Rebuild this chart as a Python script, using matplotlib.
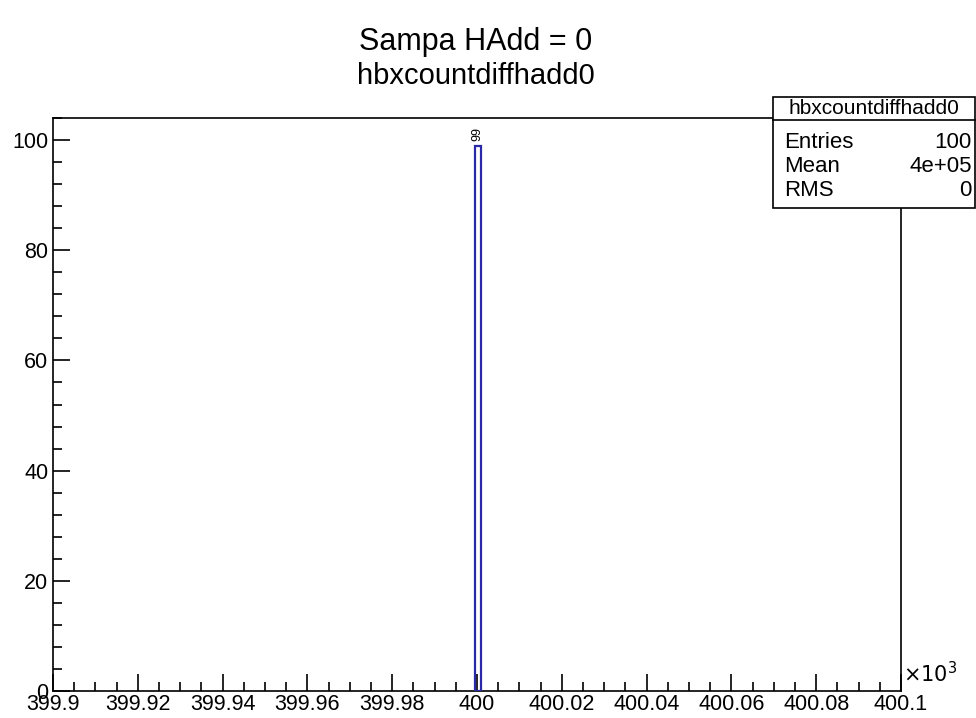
import matplotlib
matplotlib.use("Agg")
import matplotlib.pyplot as plt
from matplotlib.ticker import MultipleLocator, FixedLocator
from matplotlib.patches import Rectangle

plt.rcParams['font.family'] = ['Liberation Sans', 'DejaVu Sans']

# Data (x in units of 10^3)
bin_left = [399.99945]
bin_width = [0.00140]
counts = [99]
x_ticks = [399.9, 399.92, 399.94, 399.96, 399.98, 400.0, 400.02, 400.04, 400.06, 400.08, 400.1]
x_tick_labels = ["399.9", "399.92", "399.94", "399.96", "399.98", "400",
                 "400.02", "400.04", "400.06", "400.08", "400.1"]
y_ticks = [0, 20, 40, 60, 80, 100]
stats_names = ["Entries", "Mean", "RMS"]
stats_values = ["100", "4e+05", "0"]
hist_name = "hbxcountdiffhadd0"
sup_title = "Sampa HAdd = 0"

W, H = 976, 718
fig = plt.figure(figsize=(W / 100, H / 100), dpi=100)
L, R, T, B = 53, 901, 118, 691
ax = fig.add_axes([L / W, 1 - B / H, (R - L) / W, (B - T) / H])

ax.bar(bin_left, counts, width=bin_width, align='edge', facecolor='none',
       edgecolor='#2a2aa8', linewidth=1.6, zorder=3)
for xl, w, c in zip(bin_left, bin_width, counts):
    ax.text(xl + w / 2, c + 0.8, str(c), rotation=90, ha='center', va='bottom',
            fontsize=9, color='black')

ax.set_xlim(399.9, 400.1)
ax.set_ylim(0, 104)

ax.xaxis.set_major_locator(FixedLocator(x_ticks))
ax.set_xticklabels(x_tick_labels)
ax.xaxis.set_minor_locator(MultipleLocator(0.005))
ax.yaxis.set_major_locator(FixedLocator(y_ticks))
ax.yaxis.set_minor_locator(MultipleLocator(4))

ax.tick_params(axis='both', which='major', direction='in', length=12, width=1.2,
               labelsize=15.5, top=False, right=False, pad=3.5)
ax.tick_params(axis='both', which='minor', direction='in', length=6.5, width=1.2,
               top=False, right=False)
ax.tick_params(axis='x', which='major', pad=2.5)
for s in ax.spines.values():
    s.set_linewidth(1.2)

ax.text(1.002, 0.008, r"$\times10^{3}$", transform=ax.transAxes, ha='left', va='bottom',
        fontsize=15)

fig.text(476 / W, 1 - 42 / H, sup_title, ha='center', va='center', fontsize=22)
fig.text(476 / W, 1 - 76 / H, hist_name, ha='center', va='center', fontsize=21)

# Stats box
bx0, bx1, by0, by1 = 773, 975, 97, 208
fig.patches.append(Rectangle((bx0 / W, 1 - by1 / H), (bx1 - bx0) / W, (by1 - by0) / H,
                             transform=fig.transFigure, facecolor='white',
                             edgecolor='black', linewidth=1.2, zorder=5))
fig.lines.append(plt.Line2D([bx0 / W, bx1 / W], [1 - 120 / H, 1 - 120 / H],
                            transform=fig.transFigure, color='black', linewidth=1.2, zorder=6))
fig.text((bx0 + bx1) / 2 / W, 1 - 108.5 / H, hist_name, ha='center', va='center',
         fontsize=15, zorder=7)
for i, (n, v) in enumerate(zip(stats_names, stats_values)):
    yy = 1 - (142 + 24 * i) / H
    fig.text(784 / W, yy, n, ha='left', va='center', fontsize=16, zorder=7)
    fig.text(972 / W, yy, v, ha='right', va='center', fontsize=16, zorder=7)

fig.savefig("out.png", dpi=100)
